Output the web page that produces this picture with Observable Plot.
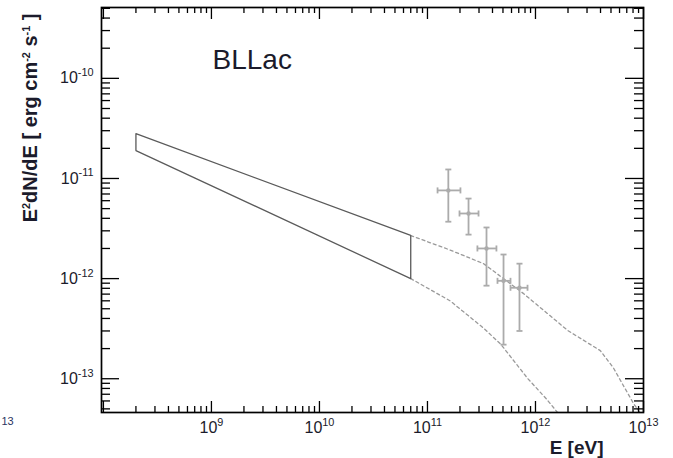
<!DOCTYPE html>
<html>
<head>
<meta charset="utf-8">
<script src="https://cdn.jsdelivr.net/npm/d3@7"></script>
<script src="https://cdn.jsdelivr.net/npm/@observablehq/plot@0.6"></script>
<style>
  body { margin: 0; background: #fff; }
  svg { display: block; }
</style>
</head>
<body>
<div id="chart"></div>
<script>
// ---------- data ----------
const sourceName = ["BLLac"];
const xTitle = ["E [eV]"];
const yTitle = ["E^{2}dN/dE [ erg cm^{-2} s^{-1} ]"];
const leftPanelFragment = ["13"];

const xTickValues = [1e9, 1e10, 1e11, 1e12, 1e13];
const xTickLabels = ["10^{9}", "10^{10}", "10^{11}", "10^{12}", "10^{13}"];
const yTickValues = [1e-13, 1e-12, 1e-11, 1e-10];
const yTickLabels = ["10^{-13}", "10^{-12}", "10^{-11}", "10^{-10}"];

// Fermi-LAT butterfly (corners)
const bowtieE = [2e8, 7e10, 7e10, 2e8, 2e8];
const bowtieF = [2.8e-11, 2.7e-12, 1.0e-12, 1.9e-11, 2.8e-11];

// dashed extrapolations (EBL absorbed)
const upperE = [7.0e10, 1.58e11, 3.31e11, 7.76e11, 2.0e12, 3.98e12, 5.25e12, 8.13e12, 9.55e12];
const upperF = [2.69e-12, 1.95e-12, 1.41e-12, 7.08e-13, 3.02e-13, 1.91e-13, 1.29e-13, 5.6e-14, 4.4e-14];
const lowerE = [7.0e10, 1.62e11, 3.31e11, 4.79e11, 8.51e11, 1.26e12, 1.78e12];
const lowerF = [1.0e-12, 6.0e-13, 3.2e-13, 2.2e-13, 1.0e-13, 6.3e-14, 4.0e-14];

// VHE data points
const pointE   = [1.56e11, 2.40e11, 3.52e11, 5.06e11, 7.11e11];
const pointELo = [1.24e11, 1.98e11, 2.90e11, 4.45e11, 5.87e11];
const pointEHi = [2.02e11, 2.97e11, 4.35e11, 5.87e11, 8.44e11];
const pointF   = [7.6e-12, 4.47e-12, 2.0e-12, 9.5e-13, 8.1e-13];
const pointFLo = [3.7e-12, 2.75e-12, 8.5e-13, 2.19e-13, 3.0e-13];
const pointFHi = [1.23e-11, 6.3e-12, 3.24e-12, 1.74e-12, 1.41e-12];

// ---------- tables ----------
const bowtie = bowtieE.map((E, i) => ({E, F: bowtieF[i]}));
const upper = upperE.map((E, i) => ({E, F: upperF[i]}));
const lower = lowerE.map((E, i) => ({E, F: lowerF[i]}));
const points = pointE.map((E, i) => ({
  E, F: pointF[i], Elo: pointELo[i], Ehi: pointEHi[i], Flo: pointFLo[i], Fhi: pointFHi[i]
}));

const xDomain = [9.6e7, 1e13];
const yDomain = [4.6e-14, 5.1e-10];
const xMajor = [1e8, ...xTickValues];
const xMinor = d3.range(8, 13).flatMap(e => d3.range(2, 10).map(k => k * Math.pow(10, e)));
const yMajor = yTickValues;
const yMinor = d3.range(-14, -9).flatMap(e => d3.range(2, 10).map(k => k * Math.pow(10, e)))
  .filter(v => v >= yDomain[0] && v <= yDomain[1]);

// ---------- layout ----------
const W = 673, H = 458, mL = 101, mR = 30, mT = 7, mB = 46;
const FW = W - mL - mR, FH = H - mT - mB;

const hCap = {draw(ctx, size) { const r = Math.sqrt(size / Math.PI); ctx.moveTo(-r, 0); ctx.lineTo(r, 0); }};
const vCap = {draw(ctx, size) { const r = Math.sqrt(size / Math.PI); ctx.moveTo(0, -r); ctx.lineTo(0, r); }};

const gray = "#ababab";
const tickColor = "#000";
const textColor = "#1b1b2b";

const chart = Plot.plot({
  width: W, height: H,
  marginLeft: mL, marginRight: mR, marginTop: mT, marginBottom: mB,
  x: {type: "log", domain: xDomain, axis: null},
  y: {type: "log", domain: yDomain, axis: null},
  style: {fontFamily: "'Liberation Sans', Arial, Helvetica, sans-serif", background: "#fff", overflow: "visible"},
  marks: [
    // extrapolations
    Plot.line(upper, {x: "E", y: "F", stroke: "#9a9a9a", strokeWidth: 1.3, strokeDasharray: "3,3", clip: true}),
    Plot.line(lower, {x: "E", y: "F", stroke: "#9a9a9a", strokeWidth: 1.3, strokeDasharray: "3,3", clip: true}),
    // butterfly
    Plot.line(bowtie, {x: "E", y: "F", stroke: "#5a5a5a", strokeWidth: 1.3}),
    // data points
    Plot.ruleX(points, {x: "E", y1: "Flo", y2: "Fhi", stroke: gray, strokeWidth: 1.8}),
    Plot.ruleY(points, {y: "F", x1: "Elo", x2: "Ehi", stroke: gray, strokeWidth: 1.8}),
    Plot.dot(points, {x: "E", y: "Flo", symbol: hCap, r: 3, stroke: gray, strokeWidth: 1.8}),
    Plot.dot(points, {x: "E", y: "Fhi", symbol: hCap, r: 3, stroke: gray, strokeWidth: 1.8}),
    Plot.dot(points, {x: "Elo", y: "F", symbol: vCap, r: 3, stroke: gray, strokeWidth: 1.8}),
    Plot.dot(points, {x: "Ehi", y: "F", symbol: vCap, r: 3, stroke: gray, strokeWidth: 1.8}),
    Plot.dot(points, {x: "E", y: "F", r: 2.2, fill: gray, stroke: null}),
    // ticks (inward, mirrored)
    Plot.tickX(xMajor, {x: d => d, stroke: tickColor, strokeWidth: 1.3, insetTop: FH - 11}),
    Plot.tickX(xMinor, {x: d => d, stroke: tickColor, strokeWidth: 1.3, insetTop: FH - 6}),
    Plot.tickX(xMajor, {x: d => d, stroke: tickColor, strokeWidth: 1.3, insetBottom: FH - 12}),
    Plot.tickX(xMinor, {x: d => d, stroke: tickColor, strokeWidth: 1.3, insetBottom: FH - 6}),
    Plot.tickY(yMajor, {y: d => d, stroke: tickColor, strokeWidth: 1.3, insetRight: FW - 18}),
    Plot.tickY(yMinor, {y: d => d, stroke: tickColor, strokeWidth: 1.3, insetRight: FW - 9}),
    Plot.tickY(yMajor, {y: d => d, stroke: tickColor, strokeWidth: 1.3, insetLeft: FW - 18}),
    Plot.tickY(yMinor, {y: d => d, stroke: tickColor, strokeWidth: 1.3, insetLeft: FW - 9}),
    Plot.frame({stroke: "#000", strokeWidth: 1.7}),
    // tick labels
    Plot.axisX({ticks: xTickValues, tickSize: 0, tickPadding: 9, label: null,
      tickFormat: (d, i) => xTickLabels[xTickValues.indexOf(d)], fontSize: 16, fill: textColor}),
    Plot.axisY({ticks: yTickValues, tickSize: 0, tickPadding: 8, label: null,
      tickFormat: (d, i) => yTickLabels[yTickValues.indexOf(d)], fontSize: 16, fill: textColor}),
    // titles
    Plot.text(sourceName, {text: d => d, frameAnchor: "top-left", dx: 111, dy: 53, fontSize: 28,
      textAnchor: "start", lineAnchor: "middle", fill: textColor}),
    Plot.text(xTitle, {text: d => d, frameAnchor: "bottom-right", dx: -40, dy: 35, fontSize: 19,
      fontWeight: "bold", textAnchor: "end", lineAnchor: "middle", fill: textColor}),
    Plot.text(yTitle, {text: d => d, frameAnchor: "top-left", rotate: -90, dx: -71, dy: 6, fontSize: 20,
      fontWeight: "bold", textAnchor: "end", lineAnchor: "middle", fill: textColor}),
    Plot.text(leftPanelFragment, {text: d => d, frameAnchor: "bottom-left", dx: -100, dy: 9, fontSize: 11,
      textAnchor: "start", lineAnchor: "middle", fill: "#2a3560"})
  ]
});

// superscript post-processing: "a^{b}c" -> tspans
function supify(el, supSize, shift) {
  const s = el.textContent;
  if (!s.includes("^{")) return;
  const tokens = [];
  const re = /\^\{([^}]*)\}/g;
  let last = 0, m;
  while ((m = re.exec(s))) {
    if (m.index > last) tokens.push({t: s.slice(last, m.index), sup: false});
    tokens.push({t: m[1], sup: true});
    last = re.lastIndex;
  }
  if (last < s.length) tokens.push({t: s.slice(last), sup: false});
  while (el.firstChild) el.removeChild(el.firstChild);
  let raised = false;
  for (const tok of tokens) {
    const ts = document.createElementNS("http://www.w3.org/2000/svg", "tspan");
    ts.textContent = tok.t;
    if (tok.sup) {
      ts.setAttribute("font-size", supSize);
      if (!raised) { ts.setAttribute("dy", -shift); raised = true; }
    } else if (raised) {
      ts.setAttribute("dy", shift); raised = false;
    }
    el.appendChild(ts);
  }
}
chart.querySelectorAll("text").forEach(t => {
  const fs = parseFloat(t.getAttribute("font-size") || getComputedStyle(t).fontSize) || 16;
  supify(t, fs * 0.68, fs * 0.45);
});

document.getElementById("chart").appendChild(chart);
</script>
</body>
</html>
